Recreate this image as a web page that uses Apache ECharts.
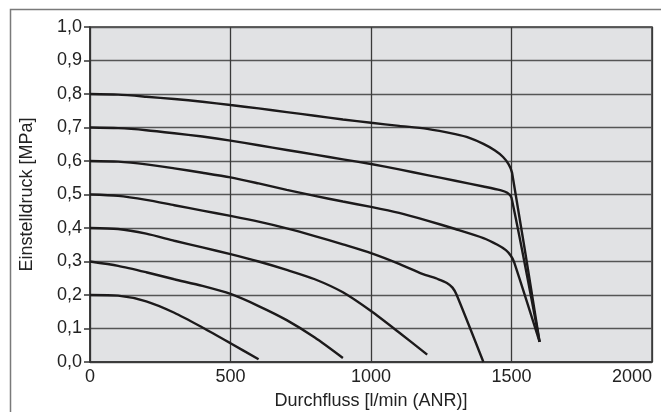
<!DOCTYPE html>
<html lang="de">
<head>
    <meta charset="UTF-8">
    <title>Durchflusskennlinie</title>
    <script src="https://cdn.jsdelivr.net/npm/echarts/dist/echarts.min.js"></script>
    <style>
        html, body { margin: 0; padding: 0; background: #fff; }
        #main { width: 661px; height: 412px; }
    </style>
</head>
<body>
<div id="main"></div>

<script>
    // Kennlinien: [Durchfluss l/min, Einstelldruck MPa]
    var curve08 = [[0, 0.80], [100, 0.798], [200, 0.792], [300, 0.785], [400, 0.777], [500, 0.767], [600, 0.757], [700, 0.746], [800, 0.735], [900, 0.724], [1000, 0.714], [1100, 0.705], [1200, 0.696], [1300, 0.68], [1350, 0.669], [1400, 0.651], [1440, 0.632], [1470, 0.612], [1490, 0.59], [1502, 0.565], [1600, 0.06]];
    var curve07 = [[0, 0.70], [100, 0.698], [200, 0.692], [300, 0.683], [400, 0.673], [500, 0.661], [600, 0.647], [700, 0.633], [800, 0.619], [900, 0.605], [1000, 0.591], [1100, 0.575], [1200, 0.558], [1300, 0.541], [1400, 0.524], [1460, 0.513], [1485, 0.505], [1500, 0.49], [1600, 0.06]];
    var curve06 = [[0, 0.60], [100, 0.598], [200, 0.59], [300, 0.578], [400, 0.565], [500, 0.551], [600, 0.533], [700, 0.514], [800, 0.496], [900, 0.479], [1000, 0.463], [1100, 0.445], [1200, 0.422], [1300, 0.397], [1400, 0.37], [1450, 0.35], [1480, 0.334], [1497, 0.318], [1509, 0.299], [1600, 0.06]];
    var curve05 = [[0, 0.50], [100, 0.496], [200, 0.484], [300, 0.468], [400, 0.452], [500, 0.436], [600, 0.419], [700, 0.399], [800, 0.376], [900, 0.351], [1000, 0.325], [1100, 0.293], [1180, 0.264], [1240, 0.247], [1270, 0.236], [1290, 0.222], [1305, 0.2], [1400, 0.0]];
    var curve04 = [[0, 0.40], [100, 0.397], [200, 0.383], [300, 0.362], [400, 0.342], [500, 0.322], [600, 0.30], [700, 0.275], [800, 0.247], [900, 0.208], [1000, 0.152], [1100, 0.088], [1200, 0.022]];
    var curve03 = [[0, 0.30], [100, 0.287], [200, 0.268], [300, 0.247], [400, 0.227], [500, 0.203], [600, 0.167], [700, 0.125], [800, 0.073], [900, 0.012]];
    var curve02 = [[0, 0.20], [100, 0.198], [200, 0.181], [300, 0.147], [400, 0.103], [500, 0.056], [600, 0.008]];

    var curves = [curve08, curve07, curve06, curve05, curve04, curve03, curve02];

    var xMin = 0, xMax = 2000, xStep = 500;
    var yMin = 0, yMax = 1, yStep = 0.1;

    var font = 'Liberation Sans, Arial, sans-serif';

    var myChart = echarts.init(document.getElementById('main'));

    var series = curves.map(function (c) {
        return {
            type: 'line',
            data: c,
            showSymbol: false,
            smooth: 0.25,
            lineStyle: { color: '#1c1a1b', width: 2.4 },
            z: 5
        };
    });

    var option = {
        animation: false,
        backgroundColor: '#fff',
        // Rahmen um das ganze Diagramm
        graphic: [{
            type: 'rect',
            left: 8, top: 7,
            shape: { width: 700, height: 500 },
            style: { fill: 'none', stroke: '#7a7a7a', lineWidth: 1.5 },
            silent: true
        }],
        grid: {
            left: 90, top: 27, right: 9, bottom: 50,
            containLabel: false,
            outerBoundsMode: 'none',
            show: true,
            backgroundColor: '#e1e2e4',
            borderColor: '#333',
            borderWidth: 1.5
        },
        xAxis: {
            type: 'value',
            min: xMin, max: xMax, interval: xStep,
            name: 'Durchfluss [l/min (ANR)]',
            nameLocation: 'middle',
            nameGap: 30,
            nameTextStyle: { fontFamily: font, fontSize: 18, color: '#222' },
            axisLine: { lineStyle: { color: '#333', width: 1.5 } },
            axisTick: { show: false },
            axisLabel: {
                fontFamily: font, fontSize: 18, color: '#222', margin: 6,
                alignMaxLabel: 'right',
                formatter: function (v) { return String(v); }
            },
            splitLine: { show: true, lineStyle: { color: '#3a3a3a', width: 1.3 } }
        },
        yAxis: {
            type: 'value',
            min: yMin, max: yMax, interval: yStep,
            name: 'Einstelldruck [MPa]',
            nameLocation: 'middle',
            nameGap: 54,
            nameTextStyle: { fontFamily: font, fontSize: 18, color: '#222' },
            axisLine: { lineStyle: { color: '#333', width: 1.5 } },
            axisTick: { show: true, length: 6, lineStyle: { color: '#333', width: 1.5 } },
            axisLabel: {
                fontFamily: font, fontSize: 18, color: '#222', margin: 8,
                formatter: function (v) { return v.toFixed(1).replace('.', ','); }
            },
            splitLine: { show: true, lineStyle: { color: '#555', width: 1.3 } }
        },
        series: series
    };

    myChart.setOption(option);
</script>
</body>
</html>
